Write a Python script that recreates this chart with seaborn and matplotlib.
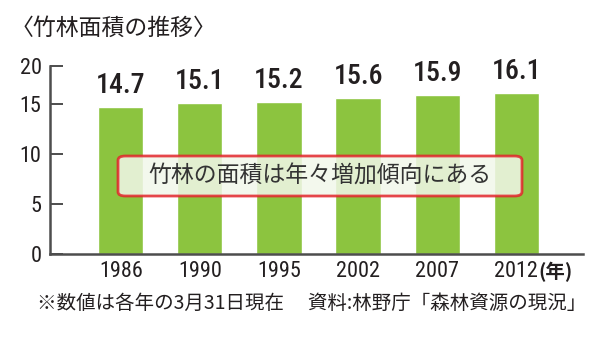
import matplotlib
matplotlib.use("Agg")
import matplotlib.pyplot as plt
import seaborn as sns
import pandas as pd
from matplotlib.patches import FancyBboxPatch

years = ["1986", "1990", "1995", "2002", "2007", "2012"]
area = [14.7, 15.1, 15.2, 15.6, 15.9, 16.1]
ytick_labels = ["0", "5", "10", "15", "20"]
title = "〈竹林面積の推移〉"
note = "竹林の面積は年々増加傾向にある"
footnote = "※数値は各年の3月31日現在　 資料:林野庁「森林資源の現況」"
unit = "(年)"

sns.set_theme(style="white")
narrow = "Roboto Condensed"
cjk = "Noto Sans CJK JP"
plt.rcParams["font.family"] = [cjk, "DejaVu Sans"]

df = pd.DataFrame({"year": years, "area": area})

fig = plt.figure(figsize=(6.11, 3.49), dpi=100)
W, H = 611, 349
ax = fig.add_axes([50 / W, 1 - 254 / H, (583 - 50) / W, (254 - 66) / H])

green = "#8CC43F"
sns.barplot(data=df, x="year", y="area", order=years, color=green, width=0.571,
            saturation=1, ax=ax)
ax.set_xlim(-0.895, 5.844)
ax.set_ylim(0, 18.8)

txt = "#231F20"
for c in ax.containers:
    ax.bar_label(c, fmt="%.1f", padding=6, fontsize=20, color=txt,
                 family=[narrow, "DejaVu Sans"], fontweight=500)

ax.set_xlabel("")
ax.set_ylabel("")
ax.set_yticks([0, 5, 10, 15, 18.8])
ax.set_yticklabels(ytick_labels, family=[narrow, "DejaVu Sans"], fontsize=16, color=txt,
                   fontweight=400)
ax.set_xticks(range(len(years)))
ax.set_xticklabels(years, family=[narrow, "DejaVu Sans"], fontsize=16, color=txt,
                   fontweight=400)
ax.tick_params(axis="y", direction="in", length=9, width=1.4, color="#4d4d4d", pad=6, left=True)
ax.tick_params(axis="x", length=0, pad=5)
for s in ["top", "right"]:
    ax.spines[s].set_visible(False)
for s in ["left", "bottom"]:
    ax.spines[s].set_color("#4d4d4d")
    ax.spines[s].set_linewidth(1.8)

# unit label after last year
ax.annotate(unit, xy=(5, 0), xycoords="data", xytext=(16, -6),
            textcoords="offset points", ha="left", va="top", fontsize=14,
            color=txt, fontweight="bold", family=[cjk, "DejaVu Sans"])

fig.text(11 / W, 1 - 28 / H, title, fontsize=16.5, color=txt, ha="left", va="center")

box = FancyBboxPatch((118 / W, 1 - 196 / H), (522 - 118) / W, (196 - 156) / H,
                     boxstyle="round,pad=0,rounding_size=0.012",
                     transform=fig.transFigure, facecolor="#F2F7EA", alpha=0.85,
                     edgecolor="#E2262B", linewidth=2.0, zorder=5)
fig.patches.append(box)
fig.text(320 / W, 1 - 176 / H, note, fontsize=16.5, color="#333333", ha="center",
         va="center", zorder=6)

fig.text(312 / W, 1 - 303 / H, footnote, fontsize=14, color=txt, ha="center", va="center")

fig.savefig("out.png", dpi=100)
